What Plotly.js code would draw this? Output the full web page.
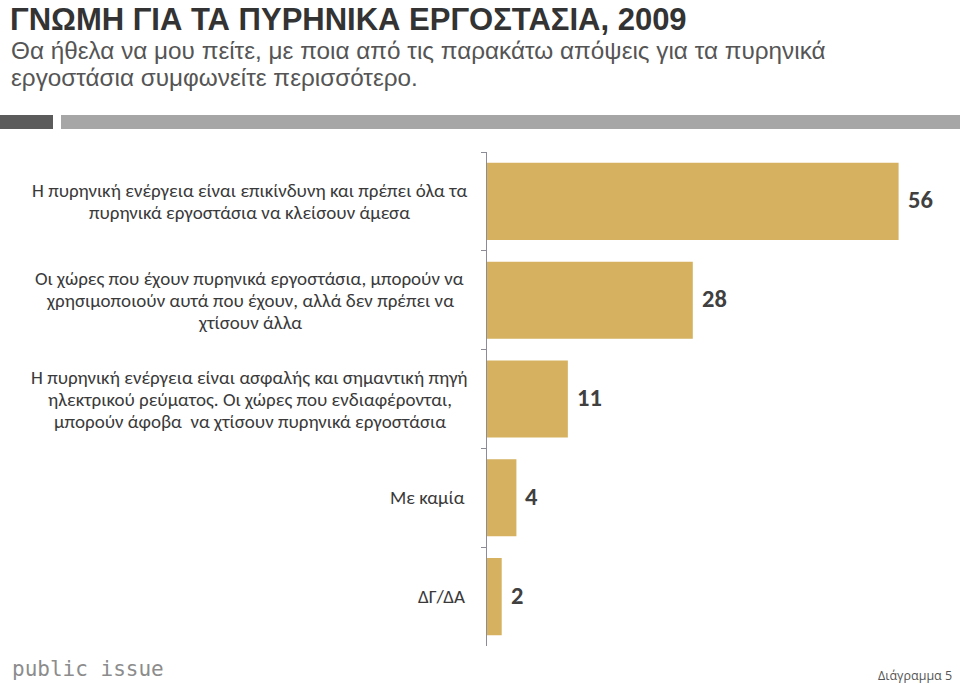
<!DOCTYPE html>
<html>
<head>
<meta charset="utf-8">
<script src="https://cdn.plot.ly/plotly-3.0.1.min.js"></script>
<style>html,body{margin:0;padding:0;background:#fff;}#chart{width:960px;height:684px;}</style>
</head>
<body>
<div id="chart"></div>
<script>
// ---- data ----
var categories = [
  "Η πυρηνική ενέργεια είναι επικίνδυνη και πρέπει όλα τα<br>πυρηνικά εργοστάσια να κλείσουν άμεσα",
  "Οι χώρες που έχουν πυρηνικά εργοστάσια, μπορούν να<br>χρησιμοποιούν αυτά που έχουν, αλλά δεν πρέπει να<br>χτίσουν άλλα",
  "Η πυρηνική ενέργεια είναι ασφαλής και σημαντική πηγή<br>ηλεκτρικού ρεύματος. Οι χώρες που ενδιαφέρονται,<br>μπορούν άφοβα  να χτίσουν πυρηνικά εργοστάσια",
  "Με καμία",
  "ΔΓ/ΔΑ"
];
var values = [56, 28, 11, 4, 2];
var titleText = "ΓΝΩΜΗ ΓΙΑ ΤΑ ΠΥΡΗΝΙΚΑ ΕΡΓΟΣΤΑΣΙΑ, 2009";
var subtitleLines = [
  "Θα ήθελα να μου πείτε, με ποια από τις παρακάτω απόψεις για τα πυρηνικά",
  "εργοστάσια συμφωνείτε περισσότερο."
];
var logoText = "public issue";
var footText = "Διάγραμμα 5";

// ---- layout geometry (pixels) ----
var W = 960, H = 684;
var M = {l: 487, r: 32, t: 152, b: 38};
var pw = W - M.l - M.r, ph = H - M.t - M.b;
function px(x){ return (x - M.l) / pw; }
function py(y){ return (H - M.b - y) / ph; }

var ids = categories.map(function(c, i){ return "c" + i; });
var labelFont = {family: "Carlito, Calibri, sans-serif", size: 19, color: "#3a3a3a"};
var lineStep = 22;

var annotations = [];
categories.forEach(function(c, i){
  var lines = c.split("<br>");
  var n = lines.length;
  lines.forEach(function(line, j){
    annotations.push({
      xref: "paper", yref: "y",
      x: n > 1 ? px(250) : px(467), y: ids[i],
      xanchor: n > 1 ? "center" : "right", yanchor: "middle",
      yshift: -(j - (n - 1) / 2) * lineStep,
      text: line, showarrow: false, font: labelFont
    });
  });
});
values.forEach(function(v, i){
  annotations.push({
    xref: "x", yref: "y", x: v, y: ids[i],
    xanchor: "left", yanchor: "middle", xshift: 7, yshift: 1,
    text: "<b>" + v + "</b>", showarrow: false,
    font: {family: "Carlito, Calibri, sans-serif", size: 24.5, color: "#404040"}
  });
});
annotations.push({xref:"paper", yref:"paper", x: px(8), y: py(0), xanchor:"left", yanchor:"top",
  text: "<b>" + titleText + "</b>", showarrow:false,
  font:{family:"Liberation Sans, Arial, sans-serif", size:31, color:"#333333"}});
subtitleLines.forEach(function(s, k){
  annotations.push({xref:"paper", yref:"paper", x: px(9), y: py(35 + k * 27.3), xanchor:"left", yanchor:"top",
    text: s, showarrow:false,
    font:{family:"Liberation Sans, Arial, sans-serif", size:24.3, color:"#555555"}});
});
annotations.push({xref:"paper", yref:"paper", x: px(10), y: py(669), xanchor:"left", yanchor:"middle",
  text: logoText, showarrow:false,
  font:{family:"DejaVu Sans Mono, monospace", size:21, color:"#8c8c8c"}});
annotations.push({xref:"paper", yref:"paper", x: px(954), y: py(675), xanchor:"right", yanchor:"middle",
  text: footText, showarrow:false,
  font:{family:"Open Sans, sans-serif", size:12.5, color:"#555555"}});

var shapes = [
  {type:"rect", xref:"paper", yref:"paper", x0:px(0), x1:px(53), y0:py(129), y1:py(115), fillcolor:"#5b5b5b", line:{width:0}},
  {type:"rect", xref:"paper", yref:"paper", x0:px(61), x1:px(960), y0:py(129), y1:py(115), fillcolor:"#a6a6a6", line:{width:0}}
];

var trace = {
  type: "bar", orientation: "h",
  y: ids, x: values,
  marker: {color: "#D5B160", line: {width: 0}},
  hoverinfo: "skip"
};

var layout = {
  width: W, height: H,
  margin: M,
  paper_bgcolor: "#ffffff", plot_bgcolor: "#ffffff",
  showlegend: false,
  bargap: 0.22,
  xaxis: {range: [0, 60], visible: false, fixedrange: true},
  yaxis: {
    type: "category", autorange: "reversed", categoryorder: "array", categoryarray: ids,
    showticklabels: false, showgrid: false, zeroline: false,
    showline: true, linecolor: "#8c8c96", linewidth: 1,
    ticks: "outside", tickson: "boundaries", ticklen: 5, tickcolor: "#8c8c96",
    fixedrange: true
  },
  annotations: annotations,
  shapes: shapes
};

Plotly.newPlot("chart", [trace], layout, {displayModeBar: false, staticPlot: true});
</script>
</body>
</html>
